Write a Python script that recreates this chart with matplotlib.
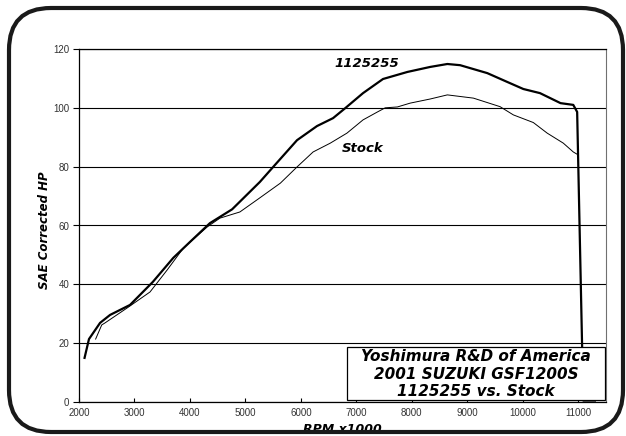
import matplotlib
matplotlib.use('Agg')
import matplotlib.pyplot as plt
from matplotlib.patches import FancyBboxPatch, Rectangle
from matplotlib.transforms import IdentityTransform

# dyno readings (rpm, hp)
rpm_1125255 = [2100, 2180, 2380, 2560, 2920, 3330, 3700, 4000, 4360, 4760, 5260,
               5500, 5930, 6290, 6580, 6800, 7120, 7480, 7920, 8330, 8640, 8870,
               9360, 9720, 10010, 10310, 10680, 10910, 10980, 11090, 11300]
hp_1125255 = [15, 21.4, 26.9, 29.6, 33, 40.8, 49, 54.4, 60.8, 65.5, 74.8,
              79.9, 89, 93.8, 96.5, 99.9, 105, 109.8, 112.2, 113.9, 114.9, 114.5,
              111.8, 108.8, 106.4, 105, 101.6, 101, 98.6, 0.5, 0.5]

rpm_stock = [2300, 2410, 2470, 2870, 3280, 3590, 3880, 4310, 4540, 4900, 5230,
             5630, 5930, 6220, 6530, 6830, 7120, 7380, 7520, 7740, 7970, 8330,
             8640, 9110, 9590, 9830, 10190, 10440, 10730, 10910, 11000]
hp_stock = [21.4, 26.2, 26.9, 32, 37.4, 44.9, 52.3, 59.5, 62.5, 64.6, 69,
            74.4, 79.9, 85, 88, 91.4, 95.9, 98.6, 100, 100.3, 101.6, 103,
            104.4, 103.3, 100.4, 97.6, 95, 91.4, 88, 85, 84]

x_ticks = list(range(2000, 11001, 1000))
y_ticks = list(range(0, 121, 20))
box_lines = ['Yoshimura R&D of America', '2001 SUZUKI GSF1200S', '1125255 vs. Stock']

W, H = 626, 436
fig = plt.figure(figsize=(W / 100, H / 100), dpi=100)
ax = fig.add_axes([79 / W, 1 - 402 / H, (606 - 79) / W, (402 - 49) / H])

bold_it = dict(family='DejaVu Sans', weight='bold', style='italic')

ax.plot(rpm_1125255, hp_1125255, color='black', lw=1.6, zorder=3)
ax.plot(rpm_stock, hp_stock, color='black', lw=0.7, zorder=3)

ax.set_xlim(2000, 11500)
ax.set_ylim(0, 120)
ax.set_xticks(x_ticks)
ax.set_yticks(y_ticks)
ax.yaxis.grid(True, color='black', lw=0.8)
ax.set_axisbelow(True)
for lab in ax.get_xticklabels() + ax.get_yticklabels():
    lab.set_family('Liberation Sans')
    lab.set_fontsize(7)
    lab.set_color('#333333')
ax.tick_params(axis='x', direction='in', length=3, width=0.8, pad=4)
ax.tick_params(axis='y', direction='out', length=4, width=0.8, pad=3)
for s in ['left', 'bottom', 'top']:
    ax.spines[s].set_linewidth(0.9)
ax.spines['right'].set_color('#707070')
ax.spines['right'].set_linewidth(0.8)

ax.text(7180, 115.2, '1125255', ha='center', va='center', fontsize=9.5, **bold_it)
ax.text(7120, 86.3, 'Stock', ha='center', va='center', fontsize=9.5, **bold_it)

# title box in lower right
ax.add_patch(Rectangle((0.509, 0.006), 0.489, 0.15, transform=ax.transAxes,
                       facecolor='white', edgecolor='black', lw=0.9, zorder=4))
for i, line in enumerate(box_lines):
    ax.text(0.7535, 0.128 - i * 0.049, line, transform=ax.transAxes, ha='center',
            va='center', fontsize=11, zorder=5, **bold_it)

fig.text(44 / W, 1 - 230 / H, 'SAE Corrected HP', rotation=90, ha='center',
         va='center', fontsize=8.5, **bold_it)
fig.text(342 / W, 1 - 423 / H, 'RPM x1000', ha='center', va='top',
         fontsize=9, **bold_it)

# rounded outer frame
frame = FancyBboxPatch((9, 4), 614, 424, boxstyle='round,pad=0,rounding_size=42',
                       transform=IdentityTransform(), facecolor='none',
                       edgecolor='#1a1a1a', lw=3, zorder=10)
fig.patches.append(frame)

fig.savefig('out.png', dpi=100)
